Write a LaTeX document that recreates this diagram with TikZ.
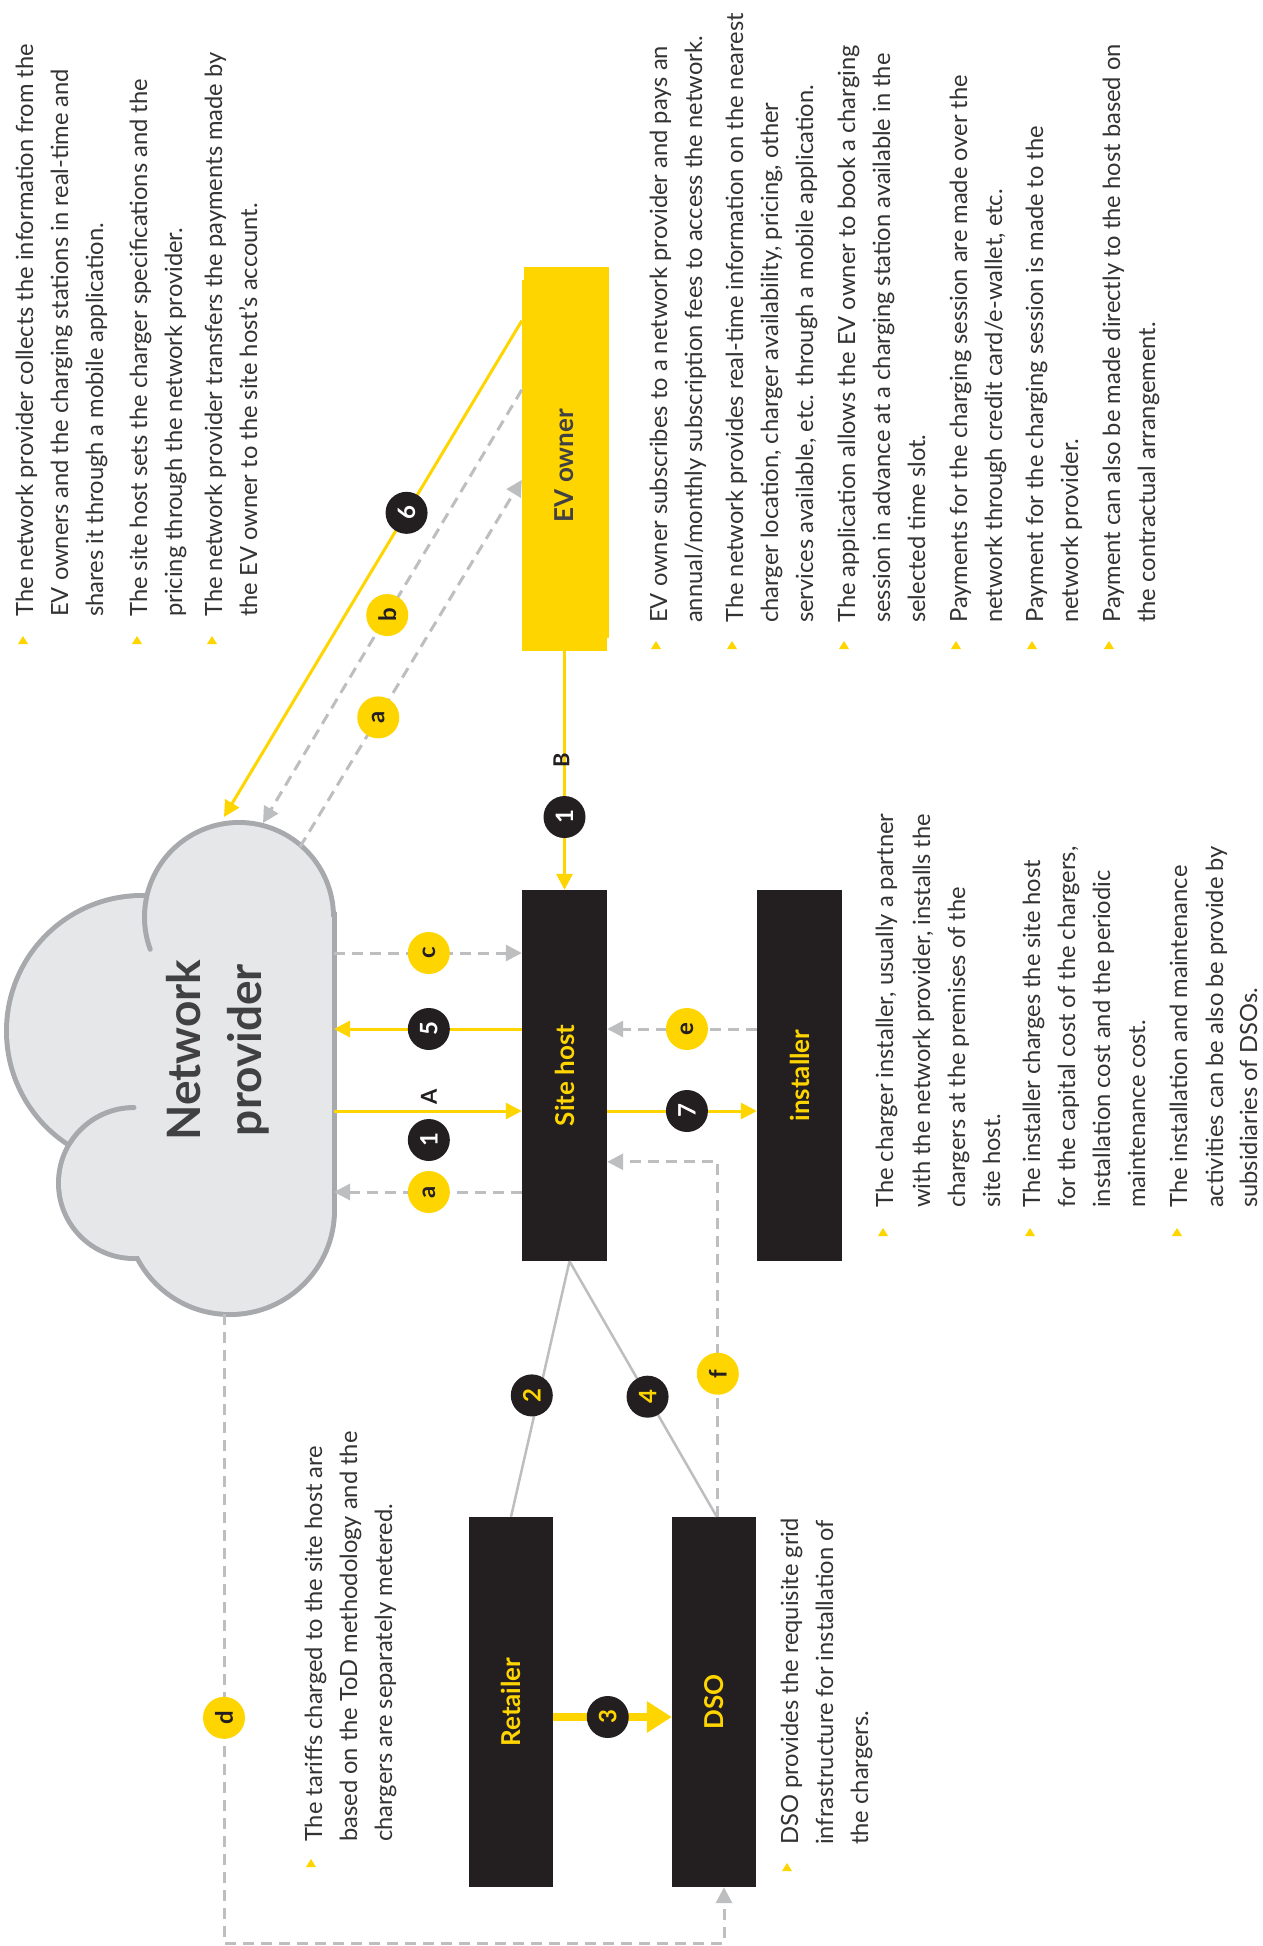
\documentclass[tikz,border=0pt]{standalone}
\usepackage{fontspec}
\usepackage{graphicx}
\setmainfont{Lato}
\usetikzlibrary{arrows.meta,calc}

\definecolor{eyyellow}{HTML}{FFD500}
\definecolor{eyblack}{HTML}{231F20}
\definecolor{linegray}{HTML}{BCBEC0}
\definecolor{cloudfill}{HTML}{E6E7E8}
\definecolor{cloudline}{HTML}{A7A9AC}
\definecolor{bodytext}{HTML}{333333}
\definecolor{titletext}{HTML}{414042}

\newcommand{\rottext}[1]{\rotatebox{90}{#1}}
% one line of running text, read bottom to top
\newcommand{\tline}[4]{\node[bodytxt] (#1) at (#2,#3) {#4};}
% yellow bullet marker
\newcommand{\tri}[2]{\fill[eyyellow] (#1,#2) ++(-5,4) -- ++(10,0) -- ++(-5,-8) -- cycle;}

\begin{document}
\begin{tikzpicture}[x=1pt, y=-1pt,
  bodytxt/.style={rotate=90, anchor=base west, inner sep=0pt, text=bodytext,
    font=\fontsize{23.7}{28}\selectfont},
  actor/.style={fill=eyblack, minimum width=85pt, minimum height=371pt, inner sep=0pt,
    text=eyyellow, font=\bfseries\fontsize{26}{30}\selectfont},
  numdot/.style={circle, fill=eyblack, minimum size=42pt, inner sep=0pt, rotate=90,
    text=white, font=\bfseries\fontsize{24}{24}\selectfont},
  numdotY/.style={numdot, text=eyyellow},
  letdot/.style={circle, fill=eyyellow, minimum size=42pt, inner sep=0pt, rotate=90,
    text=eyblack, font=\bfseries\fontsize{24}{24}\selectfont},
  lab/.style={rotate=90, inner sep=0pt, text=eyblack, font=\bfseries\fontsize{22}{22}\selectfont},
  flow/.style={draw=eyyellow, line width=3pt, -{Triangle[length=16pt,width=16pt]}},
  info/.style={draw=linegray, line width=3pt, dash pattern=on 11pt off 7pt,
    -{Triangle[length=16pt,width=16pt]}},
  link/.style={draw=linegray, line width=2.5pt},
]
\fill[white] (0,0) rectangle (1263,1946);
\useasboundingbox (0,0) rectangle (1263,1946);

% ---------------- cloud: wide strokes first, fill on top leaves the outer rim
\foreach \c/\r in {{239,917}/92, {142,1031}/133, {134,1183}/73, {230,1210}/102}
  \draw[cloudline, line width=10pt] (\c) circle[radius=\r pt];
\draw[cloudline, line width=10pt] (140,917) rectangle (332,1210);
\foreach \c/\r in {{239,917}/92, {142,1031}/133, {134,1183}/73, {230,1210}/102}
  \fill[cloudfill] (\c) circle[radius=\r pt];
\fill[cloudfill] (140,917) rectangle (332,1210);
% inner overlap strokes of the bumps
\draw[cloudline, line width=5pt, line cap=round]
  plot[domain=192:160, samples=20, variable=\t] ({239+94.5*cos(\t)}, {917+94.5*sin(\t)});
\draw[cloudline, line width=5pt, line cap=round]
  plot[domain=212:270, samples=20, variable=\t] ({134+75.5*cos(\t)}, {1183+75.5*sin(\t)});

\node[rotate=90, align=center, inner sep=0pt, text=titletext,
  font=\bfseries\fontsize{46}{61}\selectfont] (np) at (218,1050) {Network\\provider};

% attachment points on the cloud rim
\coordinate (cl-6)  at (224,817);
\coordinate (cl-b)  at (263,823);
\coordinate (cl-a1) at (300,847);
\coordinate (cl-c)  at (334,953);
\coordinate (cl-5)  at (334,1029);
\coordinate (cl-A)  at (334,1111);
\coordinate (cl-a2) at (334,1192);
\coordinate (cl-d)  at (224,1314);

% ---------------- actors
\fill[eyyellow] (524,267) rectangle (609,638);
\node[actor, fill=eyyellow, text=titletext] (ev) at (564.5,465.5) {\rottext{EV owner}};
\node[actor] (sh)   at (564.5,1075.5) {\rottext{Site host}};
\node[actor] (inst) at (799.5,1075.5) {\rottext{installer}};
\node[actor, minimum width=84pt, minimum height=370pt] (ret) at (511,1702) {\rottext{Retailer}};
\node[actor, minimum width=84pt, minimum height=370pt] (dso) at (714,1702) {\rottext{DSO}};

% ---------------- EV owner and network provider
\draw[flow] ($(ev.north west)+(0,41)$) -- node[numdot, pos=0.387]{6} (cl-6);
\draw[info] ($(ev.north west)+(0,110)$) -- node[letdot, pos=0.52]{b} (cl-b);
\draw[info] (cl-a1) -- node[letdot, pos=0.353]{a} ($(ev.north west)+(0,200)$);

% EV owner to site host (label shifts are in the rotated frame)
\draw[flow] (ev.south) -- node[lab, pos=0.456, yshift=3pt]{B} node[numdot, pos=0.695]{1} (sh.north);

% ---------------- network provider and site host
\draw[info] (cl-c) -- node[letdot, pos=0.505]{c} (cl-c -| sh.west);
\draw[flow] (cl-5 -| sh.west) -- node[numdot, pos=0.495]{5} (cl-5);
\draw[flow] (cl-A) -- node[lab, pos=0.505, xshift=14pt]{A}
  node[numdot, pos=0.505, xshift=-29pt]{1} (cl-A -| sh.west);
\draw[info] (cl-a2 -| sh.west) -- node[letdot, pos=0.495]{a} (cl-a2);

% ---------------- site host and installer
\draw[flow] (sh.east |- cl-A) -- node[numdot, pos=0.533]{7} (inst.west |- cl-A);
\draw[info] (inst.west |- cl-5) -- node[letdot, pos=0.467]{e} (sh.east |- cl-5);

% DSO to site host
\draw[info] ($(dso.north west)+(46,0)$) |- node[letdot, pos=0.2015]{f} ($(sh.north east)+(0,272)$);

% site host to retailer and DSO
\coordinate (sh-foot) at ($(sh.south)+(5,0)$);
\draw[link] (sh-foot) -- node[numdotY, pos=0.525, yshift=7pt]{2} (ret.north);
\draw[link] (sh-foot) -- node[numdotY, pos=0.53]{4} ($(dso.north west)+(45,0)$);

% retailer to DSO
\draw[draw=eyyellow, line width=8pt, -{Triangle[length=25pt,width=30pt]}]
  ($(ret.east)+(0,15)$) -- node[numdotY, pos=0.46]{3} ($(dso.west)+(0,15)$);

% network provider to DSO
\coordinate (d-turn) at (224,1943);
\draw[info] (cl-d) -- node[letdot, pos=0.642]{d} (d-turn) -| ($(dso.south)+(10,0)$);

% ---------------- notes: network provider
\tri{23}{640}\tri{137}{640}\tri{212}{640}
\tline{n1}{33}{617}{The network provider collects the information from the}
\tline{n2}{68}{617}{EV owners and the charging stations in real-time and}
\tline{n3}{103}{617}{shares it through a mobile application.}
\tline{n4}{147}{617}{The site host sets the charger specifications and the}
\tline{n5}{182}{617}{pricing through the network provider.}
\tline{n6}{222}{617}{The network provider transfers the payments made by}
\tline{n7}{257}{617}{the EV owner to the site host’s account.}

% ---------------- notes: EV owner
\tri{656}{645}\tri{732}{645}\tri{844}{645}\tri{956}{645}\tri{1032}{645}\tri{1109}{645}
\tline{e1}{667}{623}{EV owner subscribes to a network provider and pays an}
\tline{e2}{702}{623}{annual/monthly subscription fees to access the network.}
\tline{e3}{743}{623}{The network provides real-time information on the nearest}
\tline{e4}{778}{623}{charger location, charger availability, pricing, other}
\tline{e5}{813}{623}{services available, etc. through a mobile application.}
\tline{e6}{855}{623}{The application allows the EV owner to book a charging}
\tline{e7}{890}{623}{session in advance at a charging station available in the}
\tline{e8}{925}{623}{selected time slot.}
\tline{e9}{967}{623}{Payments for the charging session are made over the}
\tline{e10}{1002}{623}{network through credit card/e-wallet, etc.}
\tline{e11}{1043}{623}{Payment for the charging session is made to the}
\tline{e12}{1078}{623}{network provider.}
\tline{e13}{1120}{623}{Payment can also be made directly to the host based on}
\tline{e14}{1155}{623}{the contractual arrangement.}

% ---------------- notes: installer
\tri{883}{1232}\tri{1030}{1232}\tri{1177}{1232}
\tline{i1}{893}{1208}{The charger installer, usually a partner}
\tline{i2}{930}{1208}{with the network provider, installs the}
\tline{i3}{965}{1208}{chargers at the premises of the}
\tline{i4}{1000}{1208}{site host.}
\tline{i5}{1040}{1208}{The installer charges the site host}
\tline{i6}{1075}{1208}{for the capital cost of the chargers,}
\tline{i7}{1110}{1208}{installation cost and the periodic}
\tline{i8}{1145}{1208}{maintenance cost.}
\tline{i9}{1187}{1208}{The installation and maintenance}
\tline{i10}{1223}{1208}{activities can be also be provide by}
\tline{i11}{1257}{1208}{subsidiaries of DSOs.}

% ---------------- notes: retailer and DSO
\tri{311}{1863}
\tline{r1}{322}{1842}{The tariffs charged to the site host are}
\tline{r2}{357}{1842}{based on the ToD methodology and the}
\tline{r3}{392}{1842}{chargers are separately metered.}
\tri{787}{1867}
\tline{s1}{798}{1845}{DSO provides the requisite grid}
\tline{s2}{833}{1845}{infrastructure for installation of}
\tline{s3}{868}{1845}{the chargers.}
\end{tikzpicture}
\end{document}
